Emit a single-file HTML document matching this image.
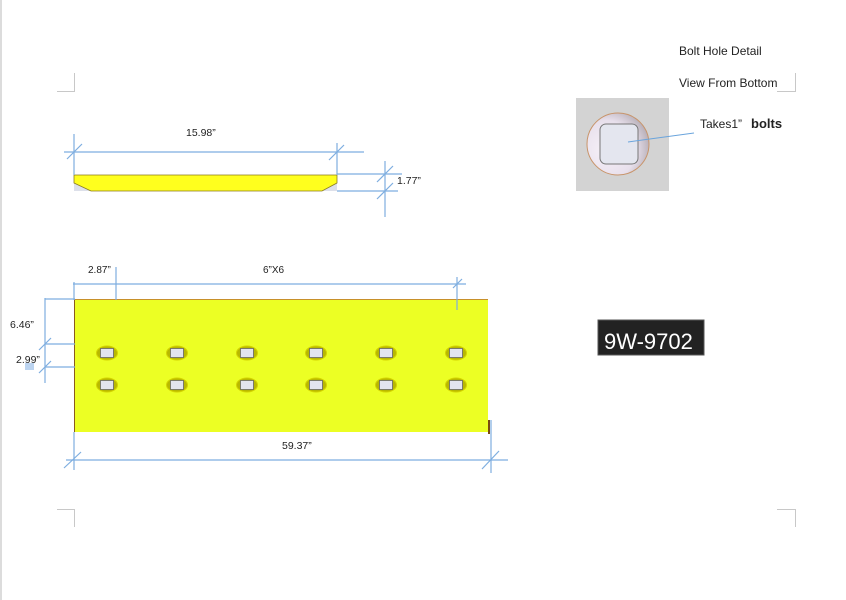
<!DOCTYPE html>
<html><head><style>
html,body{margin:0;padding:0;background:#fff;}
body{width:846px;height:600px;overflow:hidden;position:relative;font-family:"Liberation Sans",sans-serif;}
</style></head><body>
<svg width="846" height="600" xmlns="http://www.w3.org/2000/svg" style="position:absolute;left:0;top:0">
<defs>
<radialGradient id="bh" cx="0.3" cy="0.6" r="0.8">
<stop offset="0" stop-color="#f6f0f8"/><stop offset="0.6" stop-color="#e8e0ec"/><stop offset="1" stop-color="#a8a0a8"/>
</radialGradient>
<g id="h">
<ellipse cx="0" cy="0" rx="10.5" ry="7" fill="#b8b800" stroke="#d4d400" stroke-width="1"/>
<rect x="-6.5" y="-4.5" width="13" height="9" fill="#e2e4ee" stroke="#666" stroke-width="0.8"/>
</g>
</defs>
<rect x="0" y="0" width="2" height="600" fill="#dcdcdc"/>
<g stroke="#c8c8c8" stroke-width="1" fill="none">
<path d="M74.5 73V91.5H57"/>
<path d="M57 509.5H74.5V527"/>
<path d="M777 91.5H795.5V73"/>
<path d="M795.5 527V509.5H777"/>
</g>
<!-- top profile -->
<polygon points="74,183 91,191 74,191" fill="#dde0ea"/>
<polygon points="337,183 322,191 337,191" fill="#dde0ea"/>
<polygon points="74,175 337,175 337,183 322,191 91,191 74,183" fill="#ffff1e" stroke="#8a7a20" stroke-width="0.8"/>
<g stroke="#7eaee0" stroke-width="1.2" fill="none">
<line x1="64" y1="152" x2="364" y2="152"/>
<line x1="74" y1="134" x2="74" y2="175"/>
<line x1="337" y1="143" x2="337" y2="175"/>
<line x1="67" y1="159" x2="82" y2="144"/>
<line x1="329" y1="160" x2="344" y2="145"/>
<line x1="337" y1="174" x2="402" y2="174"/>
<line x1="337" y1="191" x2="398" y2="191"/>
<line x1="385" y1="161" x2="385" y2="217"/>
<line x1="377" y1="182" x2="393" y2="166"/>
<line x1="377" y1="199" x2="393" y2="183"/>
</g>
<text x="186" y="136" font-size="10.5" fill="#222">15.98”</text>
<text x="397" y="184" font-size="10.5" fill="#222">1.77”</text>
<!-- plate -->
<rect x="75" y="299" width="413" height="133" fill="#ecff24"/>
<line x1="75" y1="299.5" x2="488" y2="299.5" stroke="#c8902a" stroke-width="1"/>
<line x1="74.5" y1="299" x2="74.5" y2="432" stroke="#8a5a20" stroke-width="1"/>
<rect x="488" y="420" width="2" height="14" fill="#7a4a10"/>
<use href="#h" x="107" y="353"/><use href="#h" x="107" y="385"/>
<use href="#h" x="177" y="353"/><use href="#h" x="177" y="385"/>
<use href="#h" x="247" y="353"/><use href="#h" x="247" y="385"/>
<use href="#h" x="316" y="353"/><use href="#h" x="316" y="385"/>
<use href="#h" x="386" y="353"/><use href="#h" x="386" y="385"/>
<use href="#h" x="456" y="353"/><use href="#h" x="456" y="385"/>
<g stroke="#7eaee0" stroke-width="1.2" fill="none">
<line x1="73" y1="284" x2="466" y2="284"/>
<line x1="74" y1="282" x2="74" y2="300"/>
<line x1="116" y1="267" x2="116" y2="300"/>
<line x1="457" y1="277" x2="457" y2="310"/>
<line x1="453" y1="288" x2="462" y2="279"/>
<line x1="45" y1="298" x2="45" y2="383"/>
<line x1="45" y1="299" x2="75" y2="299"/>
<line x1="45" y1="344" x2="75" y2="344"/>
<line x1="45" y1="367" x2="75" y2="367"/>
<line x1="39" y1="350" x2="51" y2="338"/>
<line x1="39" y1="373" x2="51" y2="361"/>
<line x1="66" y1="460" x2="508" y2="460"/>
<line x1="74" y1="432" x2="74" y2="470"/>
<line x1="491" y1="420" x2="491" y2="473"/>
<line x1="64" y1="468" x2="81" y2="452"/>
<line x1="482" y1="469" x2="499" y2="451"/>
</g>
<rect x="25" y="363" width="9" height="7" fill="#bcd4f0"/>
<text x="88" y="273" font-size="10" fill="#222">2.87”</text>
<text x="263" y="273" font-size="10" fill="#222">6”X6</text>
<text x="10" y="328" font-size="10.5" fill="#222">6.46”</text>
<text x="16" y="363" font-size="10.5" fill="#222">2.99”</text>
<text x="282" y="449" font-size="10.5" fill="#222">59.37”</text>
<!-- bolt detail -->
<rect x="576" y="98" width="93" height="93" fill="#d3d3d3"/>
<circle cx="618" cy="144" r="31" fill="url(#bh)" stroke="#c8946a" stroke-width="1"/>
<rect x="600" y="124" width="38" height="40" rx="6" fill="#e4e6ef" stroke="#777" stroke-width="1"/>
<line x1="628" y1="142" x2="694" y2="133" stroke="#6aa4dc" stroke-width="1"/>
<text x="679" y="55" font-size="12" fill="#222">Bolt Hole Detail</text>
<text x="679" y="87" font-size="12" fill="#222">View From Bottom</text>
<text x="700" y="128" font-size="12" fill="#222">Takes1”</text>
<text x="751" y="128" font-size="13" font-weight="bold" fill="#222">bolts</text>
<rect x="598" y="320" width="106" height="35" fill="#222" stroke="#555" stroke-width="1"/>
<text x="604" y="349" font-size="22" fill="#fff">9W-9702</text>
</svg>
</body></html>
